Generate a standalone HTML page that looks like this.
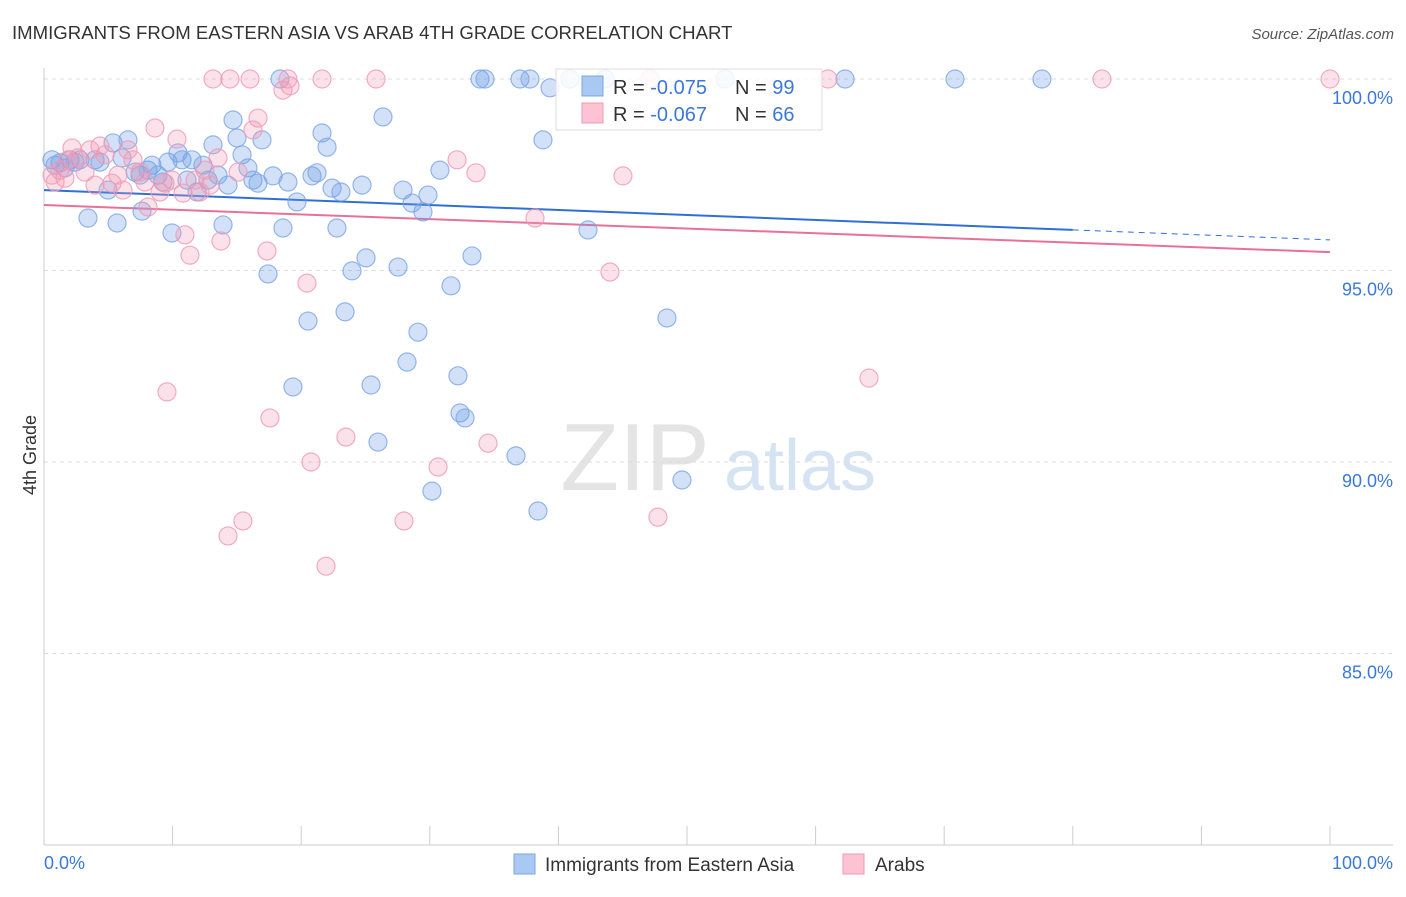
<!DOCTYPE html>
<html><head><meta charset="utf-8">
<style>
body{margin:0;background:#fff;font-family:"Liberation Sans",sans-serif;}
svg text{font-family:"Liberation Sans",sans-serif;}
</style></head>
<body>
<svg id="chart" width="1406" height="892" xmlns="http://www.w3.org/2000/svg">
<text x="12" y="39" font-size="18.6" fill="#333">IMMIGRANTS FROM EASTERN ASIA VS ARAB 4TH GRADE CORRELATION CHART</text>
<text x="1394" y="39" font-size="15" fill="#555" font-style="italic" text-anchor="end">Source: ZipAtlas.com</text>
<text x="36" y="455" font-size="18" fill="#333" transform="rotate(-90 36 455)" text-anchor="middle">4th Grade</text>
<g><text x="635" y="490" font-size="96" fill="#e4e4e4" font-family="Liberation Serif" text-anchor="middle">ZIP</text><text x="800" y="490" font-size="72" fill="#d5e3f3" text-anchor="middle">atlas</text></g>
<g id="grid"></g><g id="axes"></g><g id="trend"></g><g id="pts"></g>
<g>
<rect x="556" y="69" width="266" height="61" fill="#fff" fill-opacity="0.85" stroke="#ddd"/>
<rect x="582" y="76" width="21" height="20" fill="#a9c8f2" stroke="#7aa5e6"/>
<rect x="582" y="103" width="21" height="20" fill="#fbc3d3" stroke="#f099b4"/>
<text x="613" y="94" font-size="20" fill="#333">R = <tspan fill="#3b78d8">-0.075</tspan></text>
<text x="735" y="94" font-size="20" fill="#333">N = <tspan fill="#3b78d8">99</tspan></text>
<text x="613" y="121" font-size="20" fill="#333">R = <tspan fill="#3b78d8">-0.067</tspan></text>
<text x="735" y="121" font-size="20" fill="#333">N = <tspan fill="#3b78d8">66</tspan></text>
</g>
<g>
<rect x="514" y="854" width="21" height="20" fill="#a9c8f2" stroke="#7aa5e6"/>
<text x="545" y="871" font-size="19" fill="#333">Immigrants from Eastern Asia</text>
<rect x="843" y="854" width="21" height="20" fill="#fbc3d3" stroke="#f099b4"/>
<text x="875" y="871" font-size="19" fill="#333">Arabs</text>
</g>
</svg>
<script>
const yTicks=[100,95,90,85];
const yTickLabels=["100.0%","95.0%","90.0%","85.0%"];
const xTickVals=[0,10,20,30,40,50,60,70,80,90,100];
const blueX=[0.62,0.86,1.24,1.63,2.02,2.41,2.80,3.42,3.97,4.35,4.98,5.37,5.68,6.07,6.53,7.08,7.47,7.62,8.09,8.40,8.86,9.25,9.64,9.95,10.42,10.73,11.12,11.51,11.90,12.36,12.75,13.14,13.53,13.92,14.31,14.70,15.01,15.40,15.86,16.25,16.64,16.95,17.42,17.81,18.35,18.58,18.97,19.36,19.67,20.53,20.84,21.23,21.62,22.01,22.40,22.78,23.09,23.41,23.95,24.73,25.04,25.43,25.97,26.36,27.53,27.92,28.23,28.62,29.08,29.47,29.86,30.17,30.79,31.65,32.19,32.35,32.74,33.28,33.90,34.29,36.70,37.01,37.79,38.41,38.80,39.35,40.90,42.30,43.62,48.44,49.61,52.95,62.29,70.84,77.60];
const blueY=[97.89,97.75,97.81,97.68,97.89,97.83,97.89,96.37,97.89,97.83,97.10,98.33,96.24,97.94,98.41,97.57,97.49,96.55,97.62,97.75,97.49,97.31,97.83,95.98,98.07,97.89,97.36,97.89,97.05,97.75,97.36,98.28,97.49,96.19,97.23,98.93,98.46,98.02,97.68,97.36,97.28,98.41,94.91,97.47,100,96.11,97.31,91.96,96.79,93.68,97.47,97.55,98.59,98.22,97.15,96.11,97.05,93.92,94.99,97.23,95.33,92.01,90.52,99.01,95.09,97.10,92.61,96.76,93.39,96.53,96.97,89.24,97.62,94.60,92.25,91.28,91.15,95.38,100,100,90.16,100,100,88.72,98.41,99.77,100,96.06,100,93.76,89.53,100,100,100,100];
const pinkX=[0.62,0.86,1.24,1.63,1.87,2.18,2.64,3.19,3.58,3.97,4.35,4.74,5.29,5.75,6.14,6.53,6.92,7.47,7.85,8.09,8.63,9.02,9.41,9.56,9.95,10.34,10.81,10.96,11.35,11.74,12.13,12.52,12.91,13.14,13.53,13.76,14.31,14.46,15.09,15.47,16.02,16.25,16.64,17.34,17.57,18.58,18.97,19.13,20.45,20.76,21.62,21.93,23.48,25.82,27.99,30.64,32.12,33.59,34.53,38.18,44.01,45.02,47.12,47.74,60.96,64.15,82.27,100];
const pinkY=[97.49,97.31,97.62,97.41,97.89,98.20,97.94,97.57,98.15,97.23,98.25,98.02,97.28,97.49,97.10,98.15,97.89,97.57,97.31,96.66,98.72,97.05,97.28,91.83,97.36,98.43,97.02,95.93,95.40,97.36,97.05,97.62,97.23,100,97.94,95.77,88.07,100,97.57,88.46,100,98.67,98.98,95.51,91.15,99.71,100,99.82,94.67,90.00,100,87.28,90.65,100,88.46,89.87,97.89,97.55,90.49,96.37,94.96,97.47,100,88.56,100,92.19,100,100];
const blueTrend=[97.10,95.80];
const pinkTrend=[96.71,95.48];
const NS="http://www.w3.org/2000/svg";
const xs=v=>44+v*12.86;
const ys=v=>79+(100-v)*38.3;
function mk(tag,attrs,parent){const e=document.createElementNS(NS,tag);for(const k in attrs)e.setAttribute(k,attrs[k]);document.getElementById(parent).appendChild(e);return e;}
yTicks.forEach((t,i)=>{
 const l=mk('line',{x1:44,x2:1393,y1:ys(t),y2:ys(t),stroke:'#ddd','stroke-dasharray':'4,4'},'grid');
 
 
 const tx=mk('text',{x:1393,y:ys(t)+25,'font-size':18,fill:'#3b78d8','text-anchor':'end'},'grid');
 tx.textContent=yTickLabels[i];
 
 
});
let a=mk('line',{x1:44,x2:44,y1:68,y2:845,stroke:'#ccc'},'axes');


a=mk('line',{x1:44,x2:1393,y1:845,y2:845,stroke:'#ccc'},'axes');


xTickVals.forEach(v=>{
 const t=mk('line',{x1:xs(v),x2:xs(v),y1:826,y2:845,stroke:'#ccc'},'axes');
 
 
});
let t0=mk('text',{x:44,y:869,'font-size':18,fill:'#3b78d8'},'axes');t0.textContent='0.0%';


let t1=mk('text',{x:1393,y:869,'font-size':18,fill:'#3b78d8','text-anchor':'end'},'axes');t1.textContent='100.0%';


function drawPts(X,Y,fill,stroke,name){X.forEach((x,i)=>{
 const c=mk('circle',{cx:xs(x),cy:ys(Y[i]),r:9,fill:fill,'fill-opacity':0.3,stroke:stroke,'stroke-width':1.2,'stroke-opacity':0.8},'pts');
 
 
});}
drawPts(blueX,blueY,'#6a9be6','#7aa5e6','point-eastern-asia');
drawPts(pinkX,pinkY,'#f39ab6','#f099b4','point-arabs');
const f=(tr,x)=>tr[0]+(tr[1]-tr[0])*x/100;
let l=mk('line',{x1:xs(0),y1:ys(f(blueTrend,0)),x2:xs(80),y2:ys(f(blueTrend,80)),stroke:'#2f6fd6','stroke-width':2},'trend');


l=mk('line',{x1:xs(80),y1:ys(f(blueTrend,80)),x2:xs(100),y2:ys(f(blueTrend,100)),stroke:'#2f6fd6','stroke-width':1,'stroke-dasharray':'6,5'},'trend');


l=mk('line',{x1:xs(0),y1:ys(f(pinkTrend,0)),x2:xs(100),y2:ys(f(pinkTrend,100)),stroke:'#e8709a','stroke-width':2},'trend');


</script>
</body></html>
